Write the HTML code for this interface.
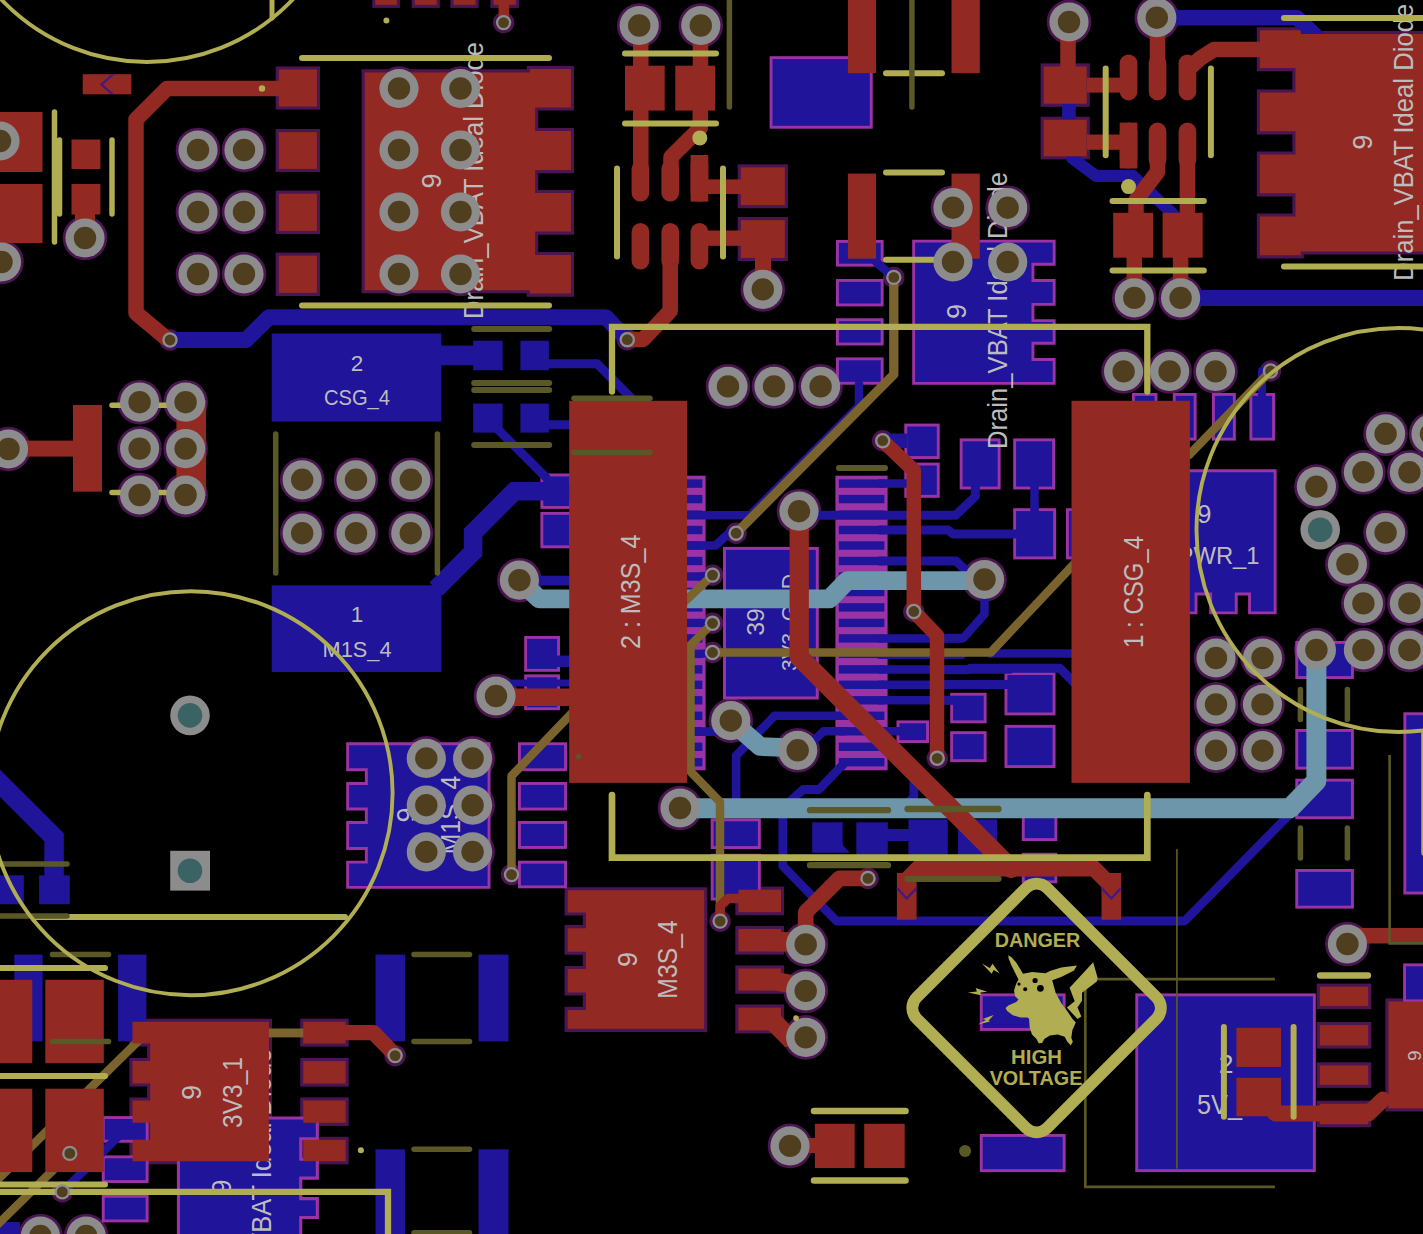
<!DOCTYPE html>
<html><head><meta charset="utf-8"><title>PCB</title>
<style>
html,body{margin:0;padding:0;background:#000;overflow:hidden}
svg{display:block}
text{font-family:"Liberation Sans",sans-serif}
</style></head><body>
<svg width="1423" height="1234" viewBox="0 0 1423 1234">
<rect width="1423" height="1234" fill="#000"/>
<g><rect x="275.7" y="66.4" width="44.3" height="43.2" fill="#4b1552"/>
<rect x="275.7" y="129" width="44.3" height="43" fill="#4b1552"/>
<rect x="275.7" y="190.6" width="44.3" height="43.4" fill="#4b1552"/>
<rect x="275.7" y="252.6" width="44.3" height="43.4" fill="#4b1552"/>
<polygon points="361.6,69.3 526.8,69.3 526.8,65.9 574,65.9 574,110.6 538.2,110.6 538.2,127.9 574,127.9 574,173.2 538.2,173.2 538.2,189.9 574,189.9 574,234.7 538.2,234.7 538.2,251.9 574,251.9 574,296.7 526.8,296.7 526.8,293.3 361.6,293.3" fill="#4b1552"/>
<circle cx="399" cy="88.5" r="22.3" fill="#4b1552"/>
<circle cx="399" cy="150" r="22.3" fill="#4b1552"/>
<circle cx="399" cy="212" r="22.3" fill="#4b1552"/>
<circle cx="399" cy="274" r="22.3" fill="#4b1552"/>
<circle cx="460.5" cy="88.5" r="22.3" fill="#4b1552"/>
<circle cx="460.5" cy="150" r="22.3" fill="#4b1552"/>
<circle cx="460.5" cy="212" r="22.3" fill="#4b1552"/>
<circle cx="460.5" cy="274" r="22.3" fill="#4b1552"/>
<circle cx="198" cy="150" r="22.3" fill="#4b1552"/>
<circle cx="198" cy="212" r="22.3" fill="#4b1552"/>
<circle cx="198" cy="274" r="22.3" fill="#4b1552"/>
<circle cx="244" cy="150" r="22.3" fill="#4b1552"/>
<circle cx="244" cy="212" r="22.3" fill="#4b1552"/>
<circle cx="244" cy="274" r="22.3" fill="#4b1552"/>
<circle cx="0" cy="141" r="22.3" fill="#4b1552"/>
<circle cx="1.5" cy="262" r="22.3" fill="#4b1552"/>
<circle cx="85" cy="238" r="22.3" fill="#4b1552"/>
<circle cx="170" cy="340" r="10.7" fill="#4b1552"/>
<circle cx="8.5" cy="449" r="22.3" fill="#4b1552"/>
<circle cx="139.6" cy="402.2" r="22.3" fill="#4b1552"/>
<circle cx="139.6" cy="448.6" r="22.3" fill="#4b1552"/>
<circle cx="139.6" cy="495" r="22.3" fill="#4b1552"/>
<circle cx="185.6" cy="402.2" r="22.3" fill="#4b1552"/>
<circle cx="185.6" cy="448.6" r="22.3" fill="#4b1552"/>
<circle cx="185.6" cy="495" r="22.3" fill="#4b1552"/>
<circle cx="302.2" cy="479.8" r="22.3" fill="#4b1552"/>
<circle cx="302.2" cy="533.2" r="22.3" fill="#4b1552"/>
<circle cx="356" cy="479.8" r="22.3" fill="#4b1552"/>
<circle cx="356" cy="533.2" r="22.3" fill="#4b1552"/>
<circle cx="410.8" cy="479.8" r="22.3" fill="#4b1552"/>
<circle cx="410.8" cy="533.2" r="22.3" fill="#4b1552"/>
<rect x="372.3" y="-6" width="27.6" height="13.9" fill="#4b1552"/>
<rect x="411.7" y="-6" width="28.1" height="13.9" fill="#4b1552"/>
<rect x="450.4" y="-6" width="28.2" height="13.9" fill="#4b1552"/>
<rect x="490.4" y="-6" width="28.5" height="13.9" fill="#4b1552"/>
<circle cx="503.6" cy="22.6" r="10.7" fill="#4b1552"/>
<circle cx="639.2" cy="25.5" r="22.3" fill="#4b1552"/>
<circle cx="700.8" cy="25.5" r="22.3" fill="#4b1552"/>
<rect x="737.7" y="164.3" width="50.2" height="43.9" fill="#4b1552"/>
<rect x="737.7" y="217" width="50.2" height="44" fill="#4b1552"/>
<circle cx="762.8" cy="289.4" r="22.3" fill="#4b1552"/>
<circle cx="627.3" cy="339.7" r="10.7" fill="#4b1552"/>
<circle cx="953" cy="207.7" r="22.3" fill="#4b1552"/>
<circle cx="953" cy="262" r="22.3" fill="#4b1552"/>
<circle cx="1007.7" cy="207.7" r="22.3" fill="#4b1552"/>
<circle cx="1007.7" cy="262" r="22.3" fill="#4b1552"/>
<circle cx="893.8" cy="277.4" r="10.7" fill="#4b1552"/>
<circle cx="728" cy="386.4" r="22.3" fill="#4b1552"/>
<circle cx="774" cy="386.4" r="22.3" fill="#4b1552"/>
<circle cx="820.6" cy="386.4" r="22.3" fill="#4b1552"/>
<circle cx="1123.6" cy="371.4" r="22.3" fill="#4b1552"/>
<circle cx="1169.6" cy="371.4" r="22.3" fill="#4b1552"/>
<circle cx="1215.5" cy="371.4" r="22.3" fill="#4b1552"/>
<circle cx="1069" cy="22" r="22.3" fill="#4b1552"/>
<circle cx="1156.8" cy="17.7" r="22.3" fill="#4b1552"/>
<polygon points="1430,30.9 1303.8,30.9 1303.8,27.2 1256.8,27.2 1256.8,71.2 1292.4,71.2 1292.4,89.5 1256.8,89.5 1256.8,134.4 1292.4,134.4 1292.4,151.5 1256.8,151.5 1256.8,196.4 1292.4,196.4 1292.4,213.5 1256.8,213.5 1256.8,258.4 1303.8,258.4 1303.8,254.5 1430,254.5" fill="#4b1552"/>
<rect x="1040.6" y="63.4" width="49.2" height="43.4" fill="#4b1552"/>
<rect x="1040.6" y="116.7" width="49.2" height="42.7" fill="#4b1552"/>
<circle cx="1134.3" cy="297.9" r="22.3" fill="#4b1552"/>
<circle cx="1180.6" cy="297.9" r="22.3" fill="#4b1552"/>
<circle cx="1270.5" cy="371" r="10.7" fill="#4b1552"/>
<circle cx="519.4" cy="580.2" r="22.3" fill="#4b1552"/>
<circle cx="984.5" cy="579.5" r="22.3" fill="#4b1552"/>
<circle cx="736.1" cy="533.2" r="10.7" fill="#4b1552"/>
<circle cx="712.5" cy="575.1" r="10.7" fill="#4b1552"/>
<circle cx="712.5" cy="623.3" r="10.7" fill="#4b1552"/>
<circle cx="712.5" cy="652.5" r="10.7" fill="#4b1552"/>
<circle cx="882.7" cy="440.7" r="10.7" fill="#4b1552"/>
<circle cx="913.8" cy="611.5" r="10.7" fill="#4b1552"/>
<circle cx="937.2" cy="758.3" r="10.7" fill="#4b1552"/>
<circle cx="799" cy="511.2" r="22.3" fill="#4b1552"/>
<circle cx="730.8" cy="720.7" r="22.3" fill="#4b1552"/>
<circle cx="797.7" cy="750.3" r="22.3" fill="#4b1552"/>
<circle cx="680" cy="808" r="22.3" fill="#4b1552"/>
<circle cx="496" cy="696" r="22.3" fill="#4b1552"/>
<circle cx="511.5" cy="874.6" r="10.7" fill="#4b1552"/>
<circle cx="1385.6" cy="433.8" r="22.3" fill="#4b1552"/>
<circle cx="1431" cy="434" r="22.3" fill="#4b1552"/>
<circle cx="1363.4" cy="472.3" r="22.3" fill="#4b1552"/>
<circle cx="1409.4" cy="472.3" r="22.3" fill="#4b1552"/>
<circle cx="1316.4" cy="486.6" r="22.3" fill="#4b1552"/>
<circle cx="1385.6" cy="532.6" r="22.3" fill="#4b1552"/>
<circle cx="1347.4" cy="564.2" r="22.3" fill="#4b1552"/>
<circle cx="1363.4" cy="603.4" r="22.3" fill="#4b1552"/>
<circle cx="1409.4" cy="603.4" r="22.3" fill="#4b1552"/>
<circle cx="1316.4" cy="650" r="22.3" fill="#4b1552"/>
<circle cx="1363.4" cy="650" r="22.3" fill="#4b1552"/>
<circle cx="1409.4" cy="650" r="22.3" fill="#4b1552"/>
<circle cx="1216" cy="658" r="22.3" fill="#4b1552"/>
<circle cx="1216" cy="704.4" r="22.3" fill="#4b1552"/>
<circle cx="1216" cy="750.7" r="22.3" fill="#4b1552"/>
<circle cx="1262.5" cy="658" r="22.3" fill="#4b1552"/>
<circle cx="1262.5" cy="704.4" r="22.3" fill="#4b1552"/>
<circle cx="1262.5" cy="750.7" r="22.3" fill="#4b1552"/>
<circle cx="426.3" cy="758.4" r="22.3" fill="#4b1552"/>
<circle cx="426.3" cy="805.2" r="22.3" fill="#4b1552"/>
<circle cx="426.3" cy="851.9" r="22.3" fill="#4b1552"/>
<circle cx="472.6" cy="758.4" r="22.3" fill="#4b1552"/>
<circle cx="472.6" cy="805.2" r="22.3" fill="#4b1552"/>
<circle cx="472.6" cy="851.9" r="22.3" fill="#4b1552"/>
<circle cx="62.3" cy="1191.9" r="10.7" fill="#4b1552"/>
<polygon points="272,1018.7 129.4,1018.7 129.4,1046.6 147.1,1046.6 147.1,1058 129.4,1058 129.4,1086.6 147.1,1086.6 147.1,1097.4 129.4,1097.4 129.4,1125.9 147.1,1125.9 147.1,1136.8 129.4,1136.8 129.4,1164.3 272,1164.3" fill="#4b1552"/>
<rect x="300.2" y="1018.7" width="48.5" height="27.9" fill="#4b1552"/>
<rect x="300.2" y="1058" width="48.5" height="28.6" fill="#4b1552"/>
<rect x="300.2" y="1097.4" width="48.5" height="28.5" fill="#4b1552"/>
<rect x="300.2" y="1136.8" width="48.5" height="27.5" fill="#4b1552"/>
<circle cx="395.1" cy="1055.6" r="10.7" fill="#4b1552"/>
<circle cx="40.4" cy="1236" r="22.3" fill="#4b1552"/>
<circle cx="86.2" cy="1236" r="22.3" fill="#4b1552"/>
<polygon points="707.3,887.2 564.6,887.2 564.6,915.6 582.8,915.6 582.8,925.1 564.6,925.1 564.6,954.8 582.8,954.8 582.8,966 564.6,966 564.6,995.6 582.8,995.6 582.8,1006.8 564.6,1006.8 564.6,1031.9 707.3,1031.9" fill="#4b1552"/>
<rect x="735.3" y="886.6" width="48.8" height="28.7" fill="#4b1552"/>
<rect x="735.3" y="925.9" width="48.8" height="28.7" fill="#4b1552"/>
<rect x="735.3" y="965.4" width="48.8" height="28.3" fill="#4b1552"/>
<rect x="735.3" y="1004.5" width="48.8" height="29" fill="#4b1552"/>
<circle cx="720.1" cy="921.1" r="10.7" fill="#4b1552"/>
<circle cx="805.7" cy="944.4" r="22.3" fill="#4b1552"/>
<circle cx="805.7" cy="990.9" r="22.3" fill="#4b1552"/>
<circle cx="805.7" cy="1037.4" r="22.3" fill="#4b1552"/>
<circle cx="868" cy="878.4" r="10.7" fill="#4b1552"/>
<circle cx="790" cy="1145.9" r="22.3" fill="#4b1552"/>
<rect x="1316.7" y="983.6" width="54.6" height="25.6" fill="#4b1552"/>
<rect x="1316.7" y="1022" width="54.6" height="26.6" fill="#4b1552"/>
<rect x="1316.7" y="1062.3" width="54.6" height="25.6" fill="#4b1552"/>
<rect x="1316.7" y="1100.7" width="54.6" height="26.6" fill="#4b1552"/>
<rect x="1385.4" y="998.4" width="49.6" height="113.1" fill="#4b1552"/>
<circle cx="1347.4" cy="944" r="22.3" fill="#4b1552"/></g>
<g><rect x="769.6" y="56.2" width="103.1" height="72.5" fill="#9a34a4"/>
<rect x="836" y="240" width="47.6" height="26.6" fill="#9a34a4"/>
<rect x="836" y="279" width="47.6" height="27.4" fill="#9a34a4"/>
<rect x="836" y="318.3" width="47.6" height="27.2" fill="#9a34a4"/>
<rect x="836" y="357.4" width="47.6" height="27.3" fill="#9a34a4"/>
<polygon points="912.2,239.7 1055.6,239.7 1055.6,265.7 1034.4,265.7 1034.4,279.1 1055.6,279.1 1055.6,305.8 1034.4,305.8 1034.4,319.2 1055.6,319.2 1055.6,344.7 1034.4,344.7 1034.4,358.1 1055.6,358.1 1055.6,384.8 912.2,384.8" fill="#9a34a4"/>
<rect x="1132" y="393" width="25.5" height="47.6" fill="#9a34a4"/>
<rect x="1172.8" y="393" width="23.8" height="47.6" fill="#9a34a4"/>
<rect x="1212" y="393" width="23.8" height="47.6" fill="#9a34a4"/>
<rect x="1249.4" y="393" width="25.6" height="47.6" fill="#9a34a4"/>
<rect x="835.4" y="475.7" width="52.2" height="294.6" fill="#9a34a4"/>
<rect x="656" y="475.7" width="49.6" height="294.6" fill="#9a34a4"/>
<rect x="723" y="546.9" width="95.8" height="152.6" fill="#9a34a4"/>
<rect x="904.3" y="423.6" width="35.4" height="35.4" fill="#9a34a4"/>
<rect x="904.3" y="462.6" width="35.4" height="35.2" fill="#9a34a4"/>
<rect x="959.7" y="438.4" width="40.9" height="51.1" fill="#9a34a4"/>
<rect x="1013.2" y="438.4" width="41.9" height="51.1" fill="#9a34a4"/>
<rect x="1013.2" y="508.2" width="42.9" height="51.2" fill="#9a34a4"/>
<rect x="1066" y="508.2" width="14" height="51.2" fill="#9a34a4"/>
<rect x="1004.5" y="672.1" width="51" height="43.3" fill="#9a34a4"/>
<rect x="1004.5" y="724.9" width="51" height="43.1" fill="#9a34a4"/>
<rect x="950.2" y="692.8" width="36.4" height="30.5" fill="#9a34a4"/>
<rect x="950.2" y="731.2" width="36.4" height="30.9" fill="#9a34a4"/>
<rect x="896.5" y="720.4" width="32.5" height="22.6" fill="#9a34a4"/>
<rect x="710.7" y="818.4" width="50.1" height="30.6" fill="#9a34a4"/>
<rect x="710.7" y="853.8" width="50.1" height="46.7" fill="#9a34a4"/>
<rect x="1021.8" y="812" width="35.5" height="29" fill="#9a34a4"/>
<rect x="1021.8" y="852.8" width="35.5" height="30.5" fill="#9a34a4"/>
<rect x="540.4" y="473.5" width="31.6" height="35.4" fill="#9a34a4"/>
<rect x="540.4" y="511.9" width="31.6" height="36.4" fill="#9a34a4"/>
<rect x="524.2" y="636" width="35.8" height="35.8" fill="#9a34a4"/>
<rect x="524.2" y="674.4" width="35.8" height="35.8" fill="#9a34a4"/>
<rect x="518" y="742.3" width="49" height="28.9" fill="#9a34a4"/>
<rect x="518" y="782" width="49" height="28.5" fill="#9a34a4"/>
<rect x="518" y="821" width="49" height="27.9" fill="#9a34a4"/>
<rect x="518" y="860.7" width="49" height="27.6" fill="#9a34a4"/>
<polygon points="1185,469.3 1276.6,469.3 1276.6,614.3 1248.1,614.3 1248.1,595.5 1237.7,595.5 1237.7,614.3 1209.2,614.3 1209.2,595.5 1197.5,595.5 1197.5,614.3 1185,614.3" fill="#9a34a4"/>
<rect x="1295.3" y="641" width="58.6" height="38" fill="#9a34a4"/>
<rect x="1295.3" y="729" width="58.6" height="40.6" fill="#9a34a4"/>
<rect x="1295.3" y="778.7" width="58.6" height="40.5" fill="#9a34a4"/>
<rect x="1295.3" y="869" width="58.6" height="39.6" fill="#9a34a4"/>
<rect x="1403.4" y="712.3" width="31.6" height="182.2" fill="#9a34a4"/>
<polygon points="490.5,742.3 346.2,742.3 346.2,771.2 364.9,771.2 364.9,782 346.2,782 346.2,810.5 364.9,810.5 364.9,821 346.2,821 346.2,849.9 364.9,849.9 364.9,860.7 346.2,860.7 346.2,888.8 490.5,888.8" fill="#9a34a4"/>
<rect x="101.8" y="1116.1" width="46.8" height="26.6" fill="#9a34a4"/>
<rect x="101.8" y="1155.4" width="46.8" height="27.6" fill="#9a34a4"/>
<rect x="101.8" y="1194.8" width="46.8" height="27.6" fill="#9a34a4"/>
<polygon points="176.9,1116.4 318.9,1116.4 318.9,1140.3 302.3,1140.3 302.3,1157.7 318.9,1157.7 318.9,1179.7 302.3,1179.7 302.3,1197.1 318.9,1197.1 318.9,1219.1 302.3,1219.1 302.3,1241.2 176.9,1241.2" fill="#9a34a4"/>
<rect x="979.8" y="993.4" width="85.8" height="37.5" fill="#9a34a4"/>
<rect x="979.8" y="1134" width="85.8" height="38.1" fill="#9a34a4"/>
<rect x="1135.3" y="993.4" width="180.5" height="178.7" fill="#9a34a4"/>
<rect x="1403.1" y="963.4" width="31.9" height="38.9" fill="#9a34a4"/></g>
<g><polyline points="170,340 246,340 269,317.2 606,317.2 627,339.5" fill="none" stroke="#20149a" stroke-width="16" stroke-linecap="round" stroke-linejoin="round"/>
<rect x="271.7" y="333.5" width="169.7" height="88.1" fill="#20149a"/>
<rect x="441" y="345.6" width="35" height="19.7" fill="#20149a"/>
<rect x="271.7" y="585.3" width="169.8" height="86.7" fill="#20149a"/>
<rect x="772.5" y="59.1" width="97.3" height="66.7" fill="#20149a"/>
<rect x="838.9" y="242.9" width="41.8" height="20.8" fill="#20149a"/>
<rect x="838.9" y="281.9" width="41.8" height="21.6" fill="#20149a"/>
<rect x="838.9" y="321.2" width="41.8" height="21.4" fill="#20149a"/>
<rect x="838.9" y="360.3" width="41.8" height="21.5" fill="#20149a"/>
<polygon points="915.1,242.6 1052.7,242.6 1052.7,262.8 1031.5,262.8 1031.5,282 1052.7,282 1052.7,302.9 1031.5,302.9 1031.5,322.1 1052.7,322.1 1052.7,341.8 1031.5,341.8 1031.5,361 1052.7,361 1052.7,381.9 915.1,381.9" fill="#20149a"/>
<polyline points="876,262 893.8,277.4" fill="none" stroke="#20149a" stroke-width="8.5" stroke-linecap="round" stroke-linejoin="round"/>
<polyline points="859,384 859,406 750,515.3 688,515.3" fill="none" stroke="#20149a" stroke-width="8.5" stroke-linecap="round" stroke-linejoin="round"/>
<rect x="473.1" y="340.7" width="29.5" height="29.5" fill="#20149a"/>
<rect x="520.4" y="340.7" width="28.5" height="29.5" fill="#20149a"/>
<rect x="473.1" y="403.6" width="29.5" height="29" fill="#20149a"/>
<rect x="520.4" y="403.6" width="28.5" height="29" fill="#20149a"/>
<polyline points="547,363.7 597,363.7 640,407" fill="none" stroke="#20149a" stroke-width="8.9" stroke-linecap="round" stroke-linejoin="round"/>
<polyline points="547,424.8 572,424.8" fill="none" stroke="#20149a" stroke-width="8.9" stroke-linecap="round" stroke-linejoin="round"/>
<polyline points="497,428.5 546,477.4" fill="none" stroke="#20149a" stroke-width="8.9" stroke-linecap="round" stroke-linejoin="round"/>
<polyline points="1157,17.7 1297,17.7 1322,42" fill="none" stroke="#20149a" stroke-width="15.5" stroke-linecap="round" stroke-linejoin="round"/>
<rect x="1062" y="104" width="13.8" height="15" fill="#20149a"/>
<polyline points="1180,297.9 1430,297.9" fill="none" stroke="#20149a" stroke-width="16" stroke-linecap="round" stroke-linejoin="round"/>
<polyline points="1072,158 1096,176 1133,176 1175,216" fill="none" stroke="#20149a" stroke-width="12" stroke-linecap="round" stroke-linejoin="round"/>
<polyline points="1262,371 1262,395" fill="none" stroke="#20149a" stroke-width="8" stroke-linecap="round" stroke-linejoin="round"/>
<rect x="1134.9" y="395.9" width="19.7" height="41.8" fill="#20149a"/>
<rect x="1175.7" y="395.9" width="18" height="41.8" fill="#20149a"/>
<rect x="1214.9" y="395.9" width="18" height="41.8" fill="#20149a"/>
<rect x="1252.3" y="395.9" width="19.8" height="41.8" fill="#20149a"/>
<rect x="838.8" y="479.4" width="45.6" height="8.4" fill="#20149a"/>
<rect x="660" y="479.4" width="42.4" height="8.4" fill="#20149a"/>
<rect x="838.8" y="494.9" width="45.6" height="8.4" fill="#20149a"/>
<rect x="660" y="494.9" width="42.4" height="8.4" fill="#20149a"/>
<rect x="838.8" y="510.4" width="45.6" height="8.4" fill="#20149a"/>
<rect x="660" y="510.4" width="42.4" height="8.4" fill="#20149a"/>
<rect x="838.8" y="525.8" width="45.6" height="8.4" fill="#20149a"/>
<rect x="660" y="525.8" width="42.4" height="8.4" fill="#20149a"/>
<rect x="838.8" y="541.3" width="45.6" height="8.4" fill="#20149a"/>
<rect x="660" y="541.3" width="42.4" height="8.4" fill="#20149a"/>
<rect x="838.8" y="556.8" width="45.6" height="8.4" fill="#20149a"/>
<rect x="660" y="556.8" width="42.4" height="8.4" fill="#20149a"/>
<rect x="838.8" y="572.3" width="45.6" height="8.4" fill="#20149a"/>
<rect x="660" y="572.3" width="42.4" height="8.4" fill="#20149a"/>
<rect x="838.8" y="587.8" width="45.6" height="8.4" fill="#20149a"/>
<rect x="660" y="587.8" width="42.4" height="8.4" fill="#20149a"/>
<rect x="838.8" y="603.2" width="45.6" height="8.4" fill="#20149a"/>
<rect x="660" y="603.2" width="42.4" height="8.4" fill="#20149a"/>
<rect x="838.8" y="618.7" width="45.6" height="8.4" fill="#20149a"/>
<rect x="660" y="618.7" width="42.4" height="8.4" fill="#20149a"/>
<rect x="838.8" y="634.2" width="45.6" height="8.4" fill="#20149a"/>
<rect x="660" y="634.2" width="42.4" height="8.4" fill="#20149a"/>
<rect x="838.8" y="649.7" width="45.6" height="8.4" fill="#20149a"/>
<rect x="660" y="649.7" width="42.4" height="8.4" fill="#20149a"/>
<rect x="838.8" y="665.2" width="45.6" height="8.4" fill="#20149a"/>
<rect x="660" y="665.2" width="42.4" height="8.4" fill="#20149a"/>
<rect x="838.8" y="680.6" width="45.6" height="8.4" fill="#20149a"/>
<rect x="660" y="680.6" width="42.4" height="8.4" fill="#20149a"/>
<rect x="838.8" y="696.1" width="45.6" height="8.4" fill="#20149a"/>
<rect x="660" y="696.1" width="42.4" height="8.4" fill="#20149a"/>
<rect x="838.8" y="711.6" width="45.6" height="8.4" fill="#20149a"/>
<rect x="660" y="711.6" width="42.4" height="8.4" fill="#20149a"/>
<rect x="838.8" y="727.1" width="45.6" height="8.4" fill="#20149a"/>
<rect x="660" y="727.1" width="42.4" height="8.4" fill="#20149a"/>
<rect x="838.8" y="742.6" width="45.6" height="8.4" fill="#20149a"/>
<rect x="660" y="742.6" width="42.4" height="8.4" fill="#20149a"/>
<rect x="838.8" y="758" width="45.6" height="8.4" fill="#20149a"/>
<rect x="660" y="758" width="42.4" height="8.4" fill="#20149a"/>
<rect x="726" y="549.9" width="89.8" height="146.6" fill="#20149a"/>
<polyline points="688,545.5 715.4,545.5 729,533.2 736,533.2" fill="none" stroke="#20149a" stroke-width="8.5" stroke-linecap="round" stroke-linejoin="round"/>
<polyline points="700,576.5 712.5,575.1" fill="none" stroke="#20149a" stroke-width="8" stroke-linecap="round" stroke-linejoin="round"/>
<polyline points="700,622.9 712.5,623.3" fill="none" stroke="#20149a" stroke-width="8" stroke-linecap="round" stroke-linejoin="round"/>
<polyline points="700,653.9 712.5,652.5" fill="none" stroke="#20149a" stroke-width="8" stroke-linecap="round" stroke-linejoin="round"/>
<polyline points="695,731.6 722,731.6" fill="none" stroke="#20149a" stroke-width="8.9" stroke-linecap="round" stroke-linejoin="round"/>
<rect x="907.2" y="426.5" width="29.6" height="29.6" fill="#20149a"/>
<rect x="907.2" y="465.5" width="29.6" height="29.4" fill="#20149a"/>
<rect x="884" y="433.5" width="23" height="14.5" fill="#20149a"/>
<polyline points="880,483.6 910,483.6" fill="none" stroke="#20149a" stroke-width="8.5" stroke-linecap="round" stroke-linejoin="round"/>
<polyline points="799,515.2 955.7,515.2 975.4,496.4 975.4,487" fill="none" stroke="#20149a" stroke-width="8.9" stroke-linecap="round" stroke-linejoin="round"/>
<polyline points="880,530 948,530 953,534 1016,534" fill="none" stroke="#20149a" stroke-width="8.9" stroke-linecap="round" stroke-linejoin="round"/>
<polyline points="880,561 956,561 967.5,572 980,580" fill="none" stroke="#20149a" stroke-width="8.9" stroke-linecap="round" stroke-linejoin="round"/>
<polyline points="880,638.4 962,638.4" fill="none" stroke="#20149a" stroke-width="8.5" stroke-linecap="round" stroke-linejoin="round"/>
<polyline points="880,655.4 962,655.4" fill="none" stroke="#20149a" stroke-width="7" stroke-linecap="round" stroke-linejoin="round"/>
<polyline points="880,669.4 1010,669.4" fill="none" stroke="#20149a" stroke-width="8.5" stroke-linecap="round" stroke-linejoin="round"/>
<polyline points="880,684.8 962,684.8" fill="none" stroke="#20149a" stroke-width="8.5" stroke-linecap="round" stroke-linejoin="round"/>
<polyline points="880,700.3 953,700.3" fill="none" stroke="#20149a" stroke-width="8.5" stroke-linecap="round" stroke-linejoin="round"/>
<rect x="962.6" y="441.3" width="35.1" height="45.3" fill="#20149a"/>
<rect x="1016.1" y="441.3" width="36.1" height="45.3" fill="#20149a"/>
<rect x="1016.1" y="511.1" width="37.1" height="45.4" fill="#20149a"/>
<rect x="1068.9" y="511.1" width="8.2" height="45.4" fill="#20149a"/>
<polyline points="1034.5,486 1034.5,512" fill="none" stroke="#20149a" stroke-width="8.5" stroke-linecap="round" stroke-linejoin="round"/>
<polyline points="984.5,585 984.5,614 963.4,638 940,638" fill="none" stroke="#20149a" stroke-width="8.5" stroke-linecap="round" stroke-linejoin="round"/>
<polyline points="990,653.4 1075,653.4" fill="none" stroke="#20149a" stroke-width="8.5" stroke-linecap="round" stroke-linejoin="round"/>
<polyline points="940,669.7 968,669.7 970,668.3 1060,668.3 1075,683.5" fill="none" stroke="#20149a" stroke-width="8.9" stroke-linecap="round" stroke-linejoin="round"/>
<polyline points="940,684.5 1008,684.5" fill="none" stroke="#20149a" stroke-width="8.9" stroke-linecap="round" stroke-linejoin="round"/>
<polyline points="940,700.2 953,700.2" fill="none" stroke="#20149a" stroke-width="8.9" stroke-linecap="round" stroke-linejoin="round"/>
<rect x="1007.4" y="675" width="45.2" height="37.5" fill="#20149a"/>
<rect x="1007.4" y="727.8" width="45.2" height="37.3" fill="#20149a"/>
<rect x="953.1" y="695.7" width="30.6" height="24.7" fill="#20149a"/>
<rect x="953.1" y="734.1" width="30.6" height="25.1" fill="#20149a"/>
<rect x="899.4" y="723.3" width="26.7" height="16.8" fill="#20149a"/>
<polyline points="880,731.3 900,731.3" fill="none" stroke="#20149a" stroke-width="8.5" stroke-linecap="round" stroke-linejoin="round"/>
<polyline points="845,715.8 774.5,715.8 736.1,755.8 736.1,800" fill="none" stroke="#20149a" stroke-width="8.5" stroke-linecap="round" stroke-linejoin="round"/>
<polyline points="845,731.3 823.6,731.3 806,748" fill="none" stroke="#20149a" stroke-width="8.5" stroke-linecap="round" stroke-linejoin="round"/>
<polyline points="845.3,762.2 819,789.5 803,789.5 782.8,808 782.8,866 836.5,921 1184.7,921 1292,812" fill="none" stroke="#20149a" stroke-width="8.8" stroke-linecap="round" stroke-linejoin="round"/>
<rect x="713.6" y="821.3" width="44.3" height="24.8" fill="#20149a"/>
<rect x="713.6" y="856.7" width="44.3" height="40.9" fill="#20149a"/>
<polygon points="812.2,822.3 842.7,822.3 842.7,845 850,852.8 812.2,852.8" fill="#20149a"/>
<rect x="856.3" y="822.3" width="31.5" height="32.7" fill="#20149a"/>
<rect x="886" y="829" width="24" height="12" fill="#20149a"/>
<rect x="908.4" y="819.4" width="39.4" height="38.6" fill="#20149a"/>
<rect x="957.9" y="819.4" width="39.3" height="38.6" fill="#20149a"/>
<rect x="1024.7" y="814.9" width="29.7" height="23.2" fill="#20149a"/>
<rect x="1024.7" y="855.7" width="29.7" height="24.7" fill="#20149a"/>
<polyline points="913.8,783 913.8,797 905,806" fill="none" stroke="#20149a" stroke-width="8.8" stroke-linecap="round" stroke-linejoin="round"/>
<rect x="543.3" y="476.4" width="25.8" height="29.6" fill="#20149a"/>
<rect x="543.3" y="514.8" width="25.8" height="30.6" fill="#20149a"/>
<polyline points="572,491.2 514.5,491.2 473.1,532.6 473.1,551.9 436,589" fill="none" stroke="#20149a" stroke-width="18.5" stroke-linecap="butt" stroke-linejoin="miter"/>
<rect x="527.1" y="638.9" width="30" height="30" fill="#20149a"/>
<rect x="555" y="655.5" width="17" height="11.5" fill="#20149a"/>
<rect x="527.1" y="677.3" width="30" height="30" fill="#20149a"/>
<rect x="520.9" y="745.2" width="43.2" height="23.1" fill="#20149a"/>
<rect x="520.9" y="784.9" width="43.2" height="22.7" fill="#20149a"/>
<rect x="520.9" y="823.9" width="43.2" height="22.1" fill="#20149a"/>
<rect x="520.9" y="863.6" width="43.2" height="21.8" fill="#20149a"/>
<polyline points="512,683 572,683" fill="none" stroke="#20149a" stroke-width="7" stroke-linecap="round" stroke-linejoin="round"/>
<polyline points="535,580.6 572,580.6" fill="none" stroke="#20149a" stroke-width="9.6" stroke-linecap="round" stroke-linejoin="round"/>
<polygon points="1187.9,472.2 1273.7,472.2 1273.7,611.4 1251,611.4 1251,592.6 1234.8,592.6 1234.8,611.4 1212.1,611.4 1212.1,592.6 1194.6,592.6 1194.6,611.4 1187.9,611.4" fill="#20149a"/>
<rect x="1298.2" y="643.9" width="52.8" height="32.2" fill="#20149a"/>
<rect x="1298.2" y="731.9" width="52.8" height="34.8" fill="#20149a"/>
<rect x="1298.2" y="781.6" width="52.8" height="34.7" fill="#20149a"/>
<rect x="1298.2" y="871.9" width="52.8" height="33.8" fill="#20149a"/>
<rect x="1406.3" y="715.2" width="25.8" height="176.4" fill="#20149a"/>
<polyline points="-10,773.2 54.1,837.3 54.1,880" fill="none" stroke="#20149a" stroke-width="19.5" stroke-linecap="butt" stroke-linejoin="miter"/>
<rect x="-2" y="875.3" width="25.8" height="28.9" fill="#20149a"/>
<rect x="39.1" y="875.3" width="30.7" height="28.9" fill="#20149a"/>
<polygon points="487.6,745.2 349.1,745.2 349.1,768.3 367.8,768.3 367.8,784.9 349.1,784.9 349.1,807.6 367.8,807.6 367.8,823.9 349.1,823.9 349.1,847 367.8,847 367.8,863.6 349.1,863.6 349.1,885.9 487.6,885.9" fill="#20149a"/>
<rect x="14.3" y="954.6" width="28.3" height="86.8" fill="#20149a"/>
<rect x="118.1" y="954.6" width="28.3" height="86.8" fill="#20149a"/>
<rect x="375.5" y="954.6" width="29.6" height="86.8" fill="#20149a"/>
<rect x="478.5" y="954.6" width="30" height="86.8" fill="#20149a"/>
<rect x="375.5" y="1149.3" width="29.6" height="90.7" fill="#20149a"/>
<rect x="478.5" y="1149.3" width="30" height="90.7" fill="#20149a"/>
<polyline points="120,1135 62.3,1191.9" fill="none" stroke="#20149a" stroke-width="8.5" stroke-linecap="round" stroke-linejoin="round"/>
<rect x="104.7" y="1119" width="41" height="20.8" fill="#20149a"/>
<rect x="104.7" y="1158.3" width="41" height="21.8" fill="#20149a"/>
<rect x="104.7" y="1197.7" width="41" height="21.8" fill="#20149a"/>
<polygon points="180,1119.5 315.8,1119.5 315.8,1137.2 299.2,1137.2 299.2,1160.8 315.8,1160.8 315.8,1176.6 299.2,1176.6 299.2,1200.2 315.8,1200.2 315.8,1216 299.2,1216 299.2,1238.1 180,1238.1" fill="#20149a"/>
<rect x="-2" y="1222" width="22" height="18" fill="#20149a"/>
<rect x="982.7" y="996.3" width="80" height="31.7" fill="#20149a"/>
<rect x="982.7" y="1136.9" width="80" height="32.3" fill="#20149a"/>
<rect x="1138.2" y="996.3" width="174.7" height="172.9" fill="#20149a"/>
<rect x="1406" y="966.3" width="26.1" height="33.1" fill="#20149a"/></g>
<g><text x="357" y="371" font-size="22.5" fill="#bcbcbc" text-anchor="middle">2</text>
<text x="357" y="405.2" font-size="22.5" fill="#bcbcbc" text-anchor="middle" textLength="66" lengthAdjust="spacingAndGlyphs">CSG_4</text>
<text x="357" y="621.8" font-size="22.5" fill="#bcbcbc" text-anchor="middle">1</text>
<text x="357.1" y="656.9" font-size="22.5" fill="#bcbcbc" text-anchor="middle" textLength="69" lengthAdjust="spacingAndGlyphs">M1S_4</text>
<text x="956.6" y="321.2" font-size="27.2" fill="#bcbcbc" text-anchor="middle" transform="rotate(-90 956.6 311.5)">9</text>
<text x="996.9" y="320.2" font-size="27.2" fill="#bcbcbc" text-anchor="middle" textLength="277" lengthAdjust="spacingAndGlyphs" transform="rotate(-90 996.9 310.5)">Drain_VBAT Ideal Diode</text>
<text x="755.1" y="630.8" font-size="24.5" fill="#bcbcbc" text-anchor="middle" textLength="27.5" lengthAdjust="spacingAndGlyphs" transform="rotate(-90 755.1 622)">39</text>
<text x="789.3" y="630.5" font-size="22.5" fill="#bcbcbc" text-anchor="middle" textLength="97" lengthAdjust="spacingAndGlyphs" transform="rotate(-90 789.3 622.4)">3V3_GND</text>
<text x="1204.3" y="523.3" font-size="25.5" fill="#bcbcbc" text-anchor="middle">9</text>
<text x="1218.6" y="563.7" font-size="24.8" fill="#bcbcbc" text-anchor="middle" textLength="82" lengthAdjust="spacingAndGlyphs">PWR_1</text>
<text x="406.8" y="824.7" font-size="27.2" fill="#bcbcbc" text-anchor="middle" transform="rotate(-90 406.8 815)">9</text>
<text x="450.2" y="824.7" font-size="27.2" fill="#bcbcbc" text-anchor="middle" textLength="78.5" lengthAdjust="spacingAndGlyphs" transform="rotate(-90 450.2 815)">M1S_4</text>
<text x="221.8" y="1196.7" font-size="27.2" fill="#bcbcbc" text-anchor="middle" transform="rotate(-90 221.8 1187)">9</text>
<text x="261.7" y="1196.7" font-size="27.2" fill="#bcbcbc" text-anchor="middle" textLength="277" lengthAdjust="spacingAndGlyphs" transform="rotate(-90 261.7 1187)">Drain_VBAT Ideal Diode</text>
<text x="1226.1" y="1073.4" font-size="26.5" fill="#bcbcbc" text-anchor="middle">2</text>
<text x="1226.5" y="1114.3" font-size="27.2" fill="#bcbcbc" text-anchor="middle" textLength="59" lengthAdjust="spacingAndGlyphs">5V_1</text></g>
<g><polyline points="519.4,580.2 539,598.8 829.5,598.8 847.3,580.7 984.5,580.7" fill="none" stroke="#6e96aa" stroke-width="18.8" stroke-linecap="round" stroke-linejoin="round"/>
<polyline points="730.8,720.7 760,746.5 797.7,748" fill="none" stroke="#6e96aa" stroke-width="18.7" stroke-linecap="round" stroke-linejoin="round"/>
<polyline points="680,808.2 1290,808.2 1316.4,781 1316.4,650" fill="none" stroke="#6e96aa" stroke-width="20" stroke-linecap="round" stroke-linejoin="round"/></g>
<g><polyline points="893.8,280 893.8,374.5 736.1,533.2" fill="none" stroke="#7a632c" stroke-width="9.3" stroke-linecap="round" stroke-linejoin="round"/>
<polyline points="1270.5,371 1189,455" fill="none" stroke="#7a632c" stroke-width="8.5" stroke-linecap="round" stroke-linejoin="round"/>
<polyline points="712.5,652.5 990.7,652.5 1075,563" fill="none" stroke="#7a632c" stroke-width="8.5" stroke-linecap="round" stroke-linejoin="round"/>
<polyline points="712.5,575.1 680,606" fill="none" stroke="#7a632c" stroke-width="8.5" stroke-linecap="round" stroke-linejoin="round"/>
<polyline points="712.5,623.3 690.5,645.3 690.5,771.5 720,802 720,921" fill="none" stroke="#7a632c" stroke-width="8.5" stroke-linecap="round" stroke-linejoin="round"/>
<polyline points="572,713 511.5,776 511.5,874" fill="none" stroke="#7a632c" stroke-width="8.5" stroke-linecap="round" stroke-linejoin="round"/>
<polyline points="140,1039.3 44.3,1133.6 -5,1182.3" fill="none" stroke="#7a632c" stroke-width="8.5" stroke-linecap="round" stroke-linejoin="round"/>
<polyline points="70.1,1153.4 -8,1230" fill="none" stroke="#7a632c" stroke-width="8.5" stroke-linecap="round" stroke-linejoin="round"/>
<rect x="266" y="1028.5" width="39" height="8.9" fill="#7a632c"/></g>
<g><rect x="82.7" y="74.2" width="48.7" height="20.1" fill="#922a23"/>
<svg x="82.7" y="74.2" width="48.7" height="20.1" viewBox="82.7 74.2 48.7 20.1"><polyline points="114,73.5 101.5,84.5 114,95.5" fill="none" stroke="#44187c" stroke-width="2.3"/></svg>
<rect x="278.8" y="69.5" width="38.1" height="37" fill="#922a23"/>
<rect x="278.8" y="132.1" width="38.1" height="36.8" fill="#922a23"/>
<rect x="278.8" y="193.7" width="38.1" height="37.2" fill="#922a23"/>
<rect x="278.8" y="255.7" width="38.1" height="37.2" fill="#922a23"/>
<polyline points="280,88.5 167,88.5 136,119.5 136,313 166,338" fill="none" stroke="#922a23" stroke-width="15.5" stroke-linecap="round" stroke-linejoin="round"/>
<polygon points="364.7,72.4 529.9,72.4 529.9,69 570.9,69 570.9,107.5 535.1,107.5 535.1,131 570.9,131 570.9,170.1 535.1,170.1 535.1,193 570.9,193 570.9,231.6 535.1,231.6 535.1,255 570.9,255 570.9,293.6 529.9,293.6 529.9,290.2 364.7,290.2" fill="#922a23"/>
<rect x="-2" y="112" width="44.5" height="60" fill="#922a23"/>
<rect x="-2" y="184" width="44.5" height="59" fill="#922a23"/>
<rect x="71.5" y="139.5" width="28.9" height="29.5" fill="#922a23"/>
<rect x="71.5" y="184" width="28.9" height="30.5" fill="#922a23"/>
<rect x="75" y="214" width="20" height="18" fill="#922a23"/>
<rect x="25" y="440.6" width="50" height="16" fill="#922a23"/>
<rect x="73" y="405" width="29" height="86.7" fill="#922a23"/>
<rect x="176.4" y="400" width="29.6" height="96" fill="#922a23"/>
<rect x="375.4" y="-2.9" width="21.4" height="7.7" fill="#922a23"/>
<rect x="414.8" y="-2.9" width="21.9" height="7.7" fill="#922a23"/>
<rect x="453.5" y="-2.9" width="22" height="7.7" fill="#922a23"/>
<rect x="493.5" y="-2.9" width="22.3" height="7.7" fill="#922a23"/>
<rect x="498.5" y="3" width="10.5" height="17" fill="#922a23"/>
<rect x="625" y="65.7" width="39.7" height="44.9" fill="#922a23"/>
<rect x="675.3" y="65.7" width="39.7" height="44.9" fill="#922a23"/>
<polyline points="640.8,25 640.8,192" fill="none" stroke="#922a23" stroke-width="15.5" stroke-linecap="round" stroke-linejoin="round"/>
<polyline points="700.5,25 700.5,70" fill="none" stroke="#922a23" stroke-width="15.5" stroke-linecap="round" stroke-linejoin="round"/>
<polyline points="700.3,108 700.3,128 671,157 671,190" fill="none" stroke="#922a23" stroke-width="15.5" stroke-linecap="round" stroke-linejoin="round"/>
<rect x="631.6" y="160" width="17.7" height="41.5" fill="#922a23" rx="8.8"/>
<rect x="661.4" y="160" width="17.7" height="41.5" fill="#922a23" rx="8.8"/>
<rect x="690.6" y="155" width="17.7" height="46.7" fill="#922a23" rx="8.8"/>
<rect x="690.6" y="155" width="17.7" height="23.3" fill="#922a23"/>
<rect x="690.6" y="178.3" width="17.7" height="23.3" fill="#922a23"/>
<rect x="631.6" y="223" width="17.7" height="46.6" fill="#922a23" rx="8.8"/>
<rect x="661.4" y="223" width="17.7" height="46.6" fill="#922a23" rx="8.8"/>
<rect x="690.6" y="223" width="17.7" height="46.6" fill="#922a23" rx="8.8"/>
<rect x="740.8" y="167.4" width="44" height="37.7" fill="#922a23"/>
<rect x="740.8" y="220.1" width="44" height="37.8" fill="#922a23"/>
<rect x="705" y="179.4" width="36" height="14.6" fill="#922a23"/>
<rect x="705" y="230.5" width="36" height="15.3" fill="#922a23"/>
<rect x="755" y="257" width="16" height="18" fill="#922a23"/>
<polyline points="670.2,262 670.2,311 643,339.5 627.3,339.5" fill="none" stroke="#922a23" stroke-width="15.5" stroke-linecap="round" stroke-linejoin="round"/>
<rect x="847.9" y="-2" width="28.2" height="75.2" fill="#922a23"/>
<rect x="951.5" y="-2" width="28.3" height="75.2" fill="#922a23"/>
<rect x="847.9" y="173.6" width="28.2" height="85.1" fill="#922a23"/>
<rect x="951.5" y="173.6" width="28.3" height="85.1" fill="#922a23"/>
<polygon points="1426.9,34 1300.7,34 1300.7,30.3 1259.9,30.3 1259.9,68.1 1295.5,68.1 1295.5,92.6 1259.9,92.6 1259.9,131.3 1295.5,131.3 1295.5,154.6 1259.9,154.6 1259.9,193.3 1295.5,193.3 1295.5,216.6 1259.9,216.6 1259.9,255.3 1300.7,255.3 1300.7,251.4 1426.9,251.4" fill="#922a23"/>
<rect x="1043.7" y="66.5" width="43" height="37.2" fill="#922a23"/>
<rect x="1043.7" y="119.8" width="43" height="36.5" fill="#922a23"/>
<polyline points="1068,22 1068,68" fill="none" stroke="#922a23" stroke-width="15.5" stroke-linecap="round" stroke-linejoin="round"/>
<rect x="1087" y="77.6" width="37" height="15" fill="#922a23"/>
<rect x="1087" y="134.5" width="37" height="15.3" fill="#922a23"/>
<rect x="1119.7" y="54.5" width="17.7" height="45.9" fill="#922a23" rx="8.8"/>
<rect x="1148.7" y="54.5" width="17.7" height="45.9" fill="#922a23" rx="8.8"/>
<rect x="1178.6" y="54.5" width="17.7" height="45.9" fill="#922a23" rx="8.8"/>
<rect x="1119.7" y="122.6" width="17.7" height="45.9" fill="#922a23" rx="8.8"/>
<rect x="1119.7" y="122.6" width="17.7" height="23" fill="#922a23"/>
<rect x="1119.7" y="145.6" width="17.7" height="22.9" fill="#922a23"/>
<rect x="1148.7" y="122.6" width="17.7" height="45.9" fill="#922a23" rx="8.8"/>
<rect x="1178.6" y="122.6" width="17.7" height="45.9" fill="#922a23" rx="8.8"/>
<polyline points="1157.5,18 1157.5,92" fill="none" stroke="#922a23" stroke-width="15.5" stroke-linecap="round" stroke-linejoin="round"/>
<polyline points="1187.4,70 1200,58.5 1214,49.4 1262,49.4" fill="none" stroke="#922a23" stroke-width="15.5" stroke-linecap="round" stroke-linejoin="round"/>
<polyline points="1157.5,160 1157.5,172 1136,200 1136,215" fill="none" stroke="#922a23" stroke-width="15.5" stroke-linecap="round" stroke-linejoin="round"/>
<polyline points="1187.4,160 1187.4,215" fill="none" stroke="#922a23" stroke-width="15.5" stroke-linecap="round" stroke-linejoin="round"/>
<rect x="1113.2" y="212.8" width="39.8" height="44.9" fill="#922a23"/>
<rect x="1162.6" y="212.8" width="40.1" height="44.9" fill="#922a23"/>
<polyline points="1134.3,255 1134.3,298" fill="none" stroke="#922a23" stroke-width="15.5" stroke-linecap="round" stroke-linejoin="round"/>
<polyline points="1180.6,255 1180.6,298" fill="none" stroke="#922a23" stroke-width="15.5" stroke-linecap="round" stroke-linejoin="round"/>
<rect x="569.2" y="400.8" width="117.9" height="382.1" fill="#922a23"/>
<rect x="1071.5" y="400.8" width="118.4" height="382.1" fill="#922a23"/>
<polyline points="882.7,440.7 913.8,470.5 913.8,611.5 937,635.5 937,758" fill="none" stroke="#922a23" stroke-width="14.5" stroke-linecap="round" stroke-linejoin="round"/>
<polyline points="799.2,511 799.2,657 1011,868.5" fill="none" stroke="#922a23" stroke-width="19.3" stroke-linecap="round" stroke-linejoin="round"/>
<rect x="496" y="688.5" width="76" height="17.5" fill="#922a23"/>
<rect x="-2" y="979.8" width="34.3" height="83.4" fill="#922a23"/>
<rect x="45.3" y="979.8" width="58.5" height="83.4" fill="#922a23"/>
<rect x="-2" y="1088.7" width="34.3" height="83.4" fill="#922a23"/>
<rect x="45.3" y="1088.7" width="58.5" height="83.4" fill="#922a23"/>
<polygon points="268.9,1021.8 132.5,1021.8 132.5,1043.5 150.2,1043.5 150.2,1061.1 132.5,1061.1 132.5,1083.5 150.2,1083.5 150.2,1100.5 132.5,1100.5 132.5,1122.8 150.2,1122.8 150.2,1139.9 132.5,1139.9 132.5,1161.2 268.9,1161.2" fill="#922a23"/>
<rect x="303.3" y="1021.8" width="42.3" height="21.7" fill="#922a23"/>
<rect x="303.3" y="1061.1" width="42.3" height="22.4" fill="#922a23"/>
<rect x="303.3" y="1100.5" width="42.3" height="22.3" fill="#922a23"/>
<rect x="303.3" y="1139.9" width="42.3" height="21.3" fill="#922a23"/>
<polyline points="340,1032.6 373.5,1032.6 395,1055" fill="none" stroke="#922a23" stroke-width="15.3" stroke-linecap="round" stroke-linejoin="round"/>
<polygon points="704.2,890.3 567.7,890.3 567.7,912.5 585.9,912.5 585.9,928.2 567.7,928.2 567.7,951.7 585.9,951.7 585.9,969.1 567.7,969.1 567.7,992.5 585.9,992.5 585.9,1009.9 567.7,1009.9 567.7,1028.8 704.2,1028.8" fill="#922a23"/>
<rect x="738.4" y="889.7" width="42.6" height="22.5" fill="#922a23"/>
<rect x="738.4" y="929" width="42.6" height="22.5" fill="#922a23"/>
<rect x="738.4" y="968.5" width="42.6" height="22.1" fill="#922a23"/>
<rect x="738.4" y="1007.6" width="42.6" height="22.8" fill="#922a23"/>
<polyline points="720.1,921 720.1,906 728,898.5 742,898.5" fill="none" stroke="#922a23" stroke-width="9.5" stroke-linecap="round" stroke-linejoin="round"/>
<polyline points="765,941.3 805.7,942.5" fill="none" stroke="#922a23" stroke-width="19.5" stroke-linecap="butt" stroke-linejoin="round"/>
<polyline points="768,979.7 805.7,987" fill="none" stroke="#922a23" stroke-width="18.5" stroke-linecap="butt" stroke-linejoin="round"/>
<polyline points="768.5,1016.9 789,1037.4 805.7,1037.4" fill="none" stroke="#922a23" stroke-width="19" stroke-linecap="butt" stroke-linejoin="miter"/>
<polyline points="868,878.4 839.5,878.4 805.7,912.2 805.7,945.3" fill="none" stroke="#922a23" stroke-width="15.7" stroke-linecap="round" stroke-linejoin="round"/>
<polyline points="906.7,910 906.7,880 918,868.5 1094,868.5 1111.3,886 1111.3,910" fill="none" stroke="#922a23" stroke-width="16" stroke-linecap="butt" stroke-linejoin="miter"/>
<rect x="896.9" y="873" width="19.7" height="46.7" fill="#922a23"/>
<rect x="1101.5" y="873" width="19.7" height="46.7" fill="#922a23"/>
<polyline points="897,888 906.7,898.5 916.5,888" fill="none" stroke="#44187c" stroke-width="2.3" stroke-linecap="butt" stroke-linejoin="miter"/>
<polyline points="1101.6,888 1111.3,898.5 1121.1,888" fill="none" stroke="#44187c" stroke-width="2.3" stroke-linecap="butt" stroke-linejoin="miter"/>
<rect x="800" y="1138" width="16" height="15" fill="#922a23"/>
<rect x="814.9" y="1123.8" width="39.8" height="44.2" fill="#922a23"/>
<rect x="864.2" y="1123.8" width="40.5" height="44.2" fill="#922a23"/>
<rect x="1236.4" y="1027.8" width="44.6" height="39.1" fill="#922a23"/>
<rect x="1236.4" y="1077.8" width="44.6" height="38.5" fill="#922a23"/>
<polyline points="1275,1113.5 1368.5,1113.5 1383,1099.5" fill="none" stroke="#922a23" stroke-width="15.8" stroke-linecap="round" stroke-linejoin="round"/>
<rect x="1319.8" y="986.7" width="48.4" height="19.4" fill="#922a23"/>
<rect x="1319.8" y="1025.1" width="48.4" height="20.4" fill="#922a23"/>
<rect x="1319.8" y="1065.4" width="48.4" height="19.4" fill="#922a23"/>
<rect x="1319.8" y="1103.8" width="48.4" height="20.4" fill="#922a23"/>
<rect x="1388.5" y="1001.5" width="43.4" height="106.9" fill="#922a23"/>
<polyline points="1347,935.7 1430,935.7" fill="none" stroke="#922a23" stroke-width="15.5" stroke-linecap="round" stroke-linejoin="round"/></g>
<g><text x="431.5" y="190.7" font-size="27.2" fill="#bcbcbc" text-anchor="middle" transform="rotate(-90 431.5 181)">9</text>
<text x="472.9" y="190.1" font-size="27.2" fill="#bcbcbc" text-anchor="middle" textLength="277" lengthAdjust="spacingAndGlyphs" transform="rotate(-90 472.9 180.4)">Drain_VBAT Ideal Diode</text>
<text x="1362.6" y="152" font-size="27.2" fill="#bcbcbc" text-anchor="middle" transform="rotate(-90 1362.6 142.3)">9</text>
<text x="1403.4" y="152" font-size="27.2" fill="#bcbcbc" text-anchor="middle" textLength="277" lengthAdjust="spacingAndGlyphs" transform="rotate(-90 1403.4 142.3)">Drain_VBAT Ideal Diode</text>
<text x="630" y="601.5" font-size="27.2" fill="#bcbcbc" text-anchor="middle" textLength="114.5" lengthAdjust="spacingAndGlyphs" transform="rotate(-90 630 591.8)">2 : M3S_4</text>
<text x="1133.3" y="601.6" font-size="27.2" fill="#bcbcbc" text-anchor="middle" textLength="112" lengthAdjust="spacingAndGlyphs" transform="rotate(-90 1133.3 591.9)">1 : CSG_4</text>
<text x="191.1" y="1102.2" font-size="27.2" fill="#bcbcbc" text-anchor="middle" transform="rotate(-90 191.1 1092.5)">9</text>
<text x="232.2" y="1102.2" font-size="27.2" fill="#bcbcbc" text-anchor="middle" textLength="71" lengthAdjust="spacingAndGlyphs" transform="rotate(-90 232.2 1092.5)">3V3_1</text>
<text x="627.4" y="969.2" font-size="27.2" fill="#bcbcbc" text-anchor="middle" transform="rotate(-90 627.4 959.5)">9</text>
<text x="667.8" y="969.2" font-size="27.2" fill="#bcbcbc" text-anchor="middle" textLength="78.5" lengthAdjust="spacingAndGlyphs" transform="rotate(-90 667.8 959.5)">M3S_4</text>
<text x="1414.5" y="1062.5" font-size="19" fill="#bcbcbc" text-anchor="middle" transform="rotate(-90 1414.5 1055.7)">9</text></g>
<g><polyline points="272,-5 272,18" fill="none" stroke="#b0ad52" stroke-width="5" stroke-linecap="round" stroke-linejoin="round"/>
<polyline points="302,58 549,58" fill="none" stroke="#b0ad52" stroke-width="6" stroke-linecap="round" stroke-linejoin="round"/>
<polyline points="302,305.4 549,305.4" fill="none" stroke="#b0ad52" stroke-width="6" stroke-linecap="round" stroke-linejoin="round"/>
<polyline points="54.5,112 54.5,242" fill="none" stroke="#b0ad52" stroke-width="5.5" stroke-linecap="round" stroke-linejoin="round"/>
<polyline points="59.5,140 59.5,214" fill="none" stroke="#b0ad52" stroke-width="5.5" stroke-linecap="round" stroke-linejoin="round"/>
<polyline points="112,140 112,214" fill="none" stroke="#b0ad52" stroke-width="5.5" stroke-linecap="round" stroke-linejoin="round"/>
<polyline points="112,492.4 188,492.4" fill="none" stroke="#b0ad52" stroke-width="5.5" stroke-linecap="round" stroke-linejoin="round"/>
<polyline points="112,405.2 188,405.2" fill="none" stroke="#b0ad52" stroke-width="5.5" stroke-linecap="round" stroke-linejoin="round"/>
<polyline points="625,53.4 716,53.4" fill="none" stroke="#b0ad52" stroke-width="6" stroke-linecap="round" stroke-linejoin="round"/>
<polyline points="625,123.6 716,123.6" fill="none" stroke="#b0ad52" stroke-width="6" stroke-linecap="round" stroke-linejoin="round"/>
<polyline points="617,168.5 617,256.5" fill="none" stroke="#b0ad52" stroke-width="6" stroke-linecap="round" stroke-linejoin="round"/>
<polyline points="723,168.5 723,256.5" fill="none" stroke="#b0ad52" stroke-width="6" stroke-linecap="round" stroke-linejoin="round"/>
<polyline points="886,73.2 942,73.2" fill="none" stroke="#b0ad52" stroke-width="6" stroke-linecap="round" stroke-linejoin="round"/>
<polyline points="886,172.6 942,172.6" fill="none" stroke="#b0ad52" stroke-width="6" stroke-linecap="round" stroke-linejoin="round"/>
<polyline points="886,259.7 942,259.7" fill="none" stroke="#b0ad52" stroke-width="6" stroke-linecap="round" stroke-linejoin="round"/>
<polyline points="612,391.5 612,326.9 1147.3,326.9 1147.3,391.5" fill="none" stroke="#b0ad52" stroke-width="6.3" stroke-linecap="round" stroke-linejoin="miter"/>
<polyline points="612,795 612,857.7 1147.3,857.7 1147.3,795" fill="none" stroke="#b0ad52" stroke-width="6.7" stroke-linecap="round" stroke-linejoin="miter"/>
<polyline points="1284,18 1425,18" fill="none" stroke="#b0ad52" stroke-width="6" stroke-linecap="round" stroke-linejoin="round"/>
<polyline points="1284,266.5 1425,266.5" fill="none" stroke="#b0ad52" stroke-width="6" stroke-linecap="round" stroke-linejoin="round"/>
<polyline points="1105.7,68.4 1105.7,155.3" fill="none" stroke="#b0ad52" stroke-width="6" stroke-linecap="round" stroke-linejoin="round"/>
<polyline points="1210.9,68.4 1210.9,155.3" fill="none" stroke="#b0ad52" stroke-width="6" stroke-linecap="round" stroke-linejoin="round"/>
<polyline points="1112.5,200.9 1203.8,200.9" fill="none" stroke="#b0ad52" stroke-width="6" stroke-linecap="round" stroke-linejoin="round"/>
<polyline points="1112.5,270.6 1203.8,270.6" fill="none" stroke="#b0ad52" stroke-width="6" stroke-linecap="round" stroke-linejoin="round"/>
<polyline points="36,917 345,917" fill="none" stroke="#b0ad52" stroke-width="6" stroke-linecap="round" stroke-linejoin="round"/>
<polyline points="-5,967.9 105,967.9" fill="none" stroke="#b0ad52" stroke-width="6" stroke-linecap="round" stroke-linejoin="round"/>
<polyline points="-5,1076.1 105,1076.1" fill="none" stroke="#b0ad52" stroke-width="6" stroke-linecap="round" stroke-linejoin="round"/>
<polyline points="-5,1184.4 105,1184.4" fill="none" stroke="#b0ad52" stroke-width="6" stroke-linecap="round" stroke-linejoin="round"/>
<polyline points="-5,1191.9 388,1191.9 388,1240" fill="none" stroke="#b0ad52" stroke-width="6.3" stroke-linecap="round" stroke-linejoin="miter"/>
<polyline points="814,1110.9 905.5,1110.9" fill="none" stroke="#b0ad52" stroke-width="6.5" stroke-linecap="round" stroke-linejoin="round"/>
<polyline points="814,1180.6 905.5,1180.6" fill="none" stroke="#b0ad52" stroke-width="6.5" stroke-linecap="round" stroke-linejoin="round"/>
<polyline points="1223.9,1027 1223.9,1116.7" fill="none" stroke="#b0ad52" stroke-width="6" stroke-linecap="round" stroke-linejoin="round"/>
<polyline points="1293.6,1027 1293.6,1116.7" fill="none" stroke="#b0ad52" stroke-width="6" stroke-linecap="round" stroke-linejoin="round"/>
<polyline points="1320,975.5 1368,975.5" fill="none" stroke="#b0ad52" stroke-width="6.3" stroke-linecap="round" stroke-linejoin="round"/>
<polyline points="1424.2,731 1424.2,853" fill="none" stroke="#b0ad52" stroke-width="6" stroke-linecap="round" stroke-linejoin="round"/></g>
<g><circle cx="399" cy="88.5" r="19.6" fill="#8c8c8c"/>
<circle cx="399" cy="88.5" r="11.2" fill="#4f3f1f"/>
<circle cx="399" cy="150" r="19.6" fill="#8c8c8c"/>
<circle cx="399" cy="150" r="11.2" fill="#4f3f1f"/>
<circle cx="399" cy="212" r="19.6" fill="#8c8c8c"/>
<circle cx="399" cy="212" r="11.2" fill="#4f3f1f"/>
<circle cx="399" cy="274" r="19.6" fill="#8c8c8c"/>
<circle cx="399" cy="274" r="11.2" fill="#4f3f1f"/>
<circle cx="460.5" cy="88.5" r="19.6" fill="#8c8c8c"/>
<circle cx="460.5" cy="88.5" r="11.2" fill="#4f3f1f"/>
<circle cx="460.5" cy="150" r="19.6" fill="#8c8c8c"/>
<circle cx="460.5" cy="150" r="11.2" fill="#4f3f1f"/>
<circle cx="460.5" cy="212" r="19.6" fill="#8c8c8c"/>
<circle cx="460.5" cy="212" r="11.2" fill="#4f3f1f"/>
<circle cx="460.5" cy="274" r="19.6" fill="#8c8c8c"/>
<circle cx="460.5" cy="274" r="11.2" fill="#4f3f1f"/>
<circle cx="198" cy="150" r="19.6" fill="#8c8c8c"/>
<circle cx="198" cy="150" r="11.2" fill="#4f3f1f"/>
<circle cx="198" cy="212" r="19.6" fill="#8c8c8c"/>
<circle cx="198" cy="212" r="11.2" fill="#4f3f1f"/>
<circle cx="198" cy="274" r="19.6" fill="#8c8c8c"/>
<circle cx="198" cy="274" r="11.2" fill="#4f3f1f"/>
<circle cx="244" cy="150" r="19.6" fill="#8c8c8c"/>
<circle cx="244" cy="150" r="11.2" fill="#4f3f1f"/>
<circle cx="244" cy="212" r="19.6" fill="#8c8c8c"/>
<circle cx="244" cy="212" r="11.2" fill="#4f3f1f"/>
<circle cx="244" cy="274" r="19.6" fill="#8c8c8c"/>
<circle cx="244" cy="274" r="11.2" fill="#4f3f1f"/>
<circle cx="0" cy="141" r="19.6" fill="#8c8c8c"/>
<circle cx="0" cy="141" r="11.2" fill="#4f3f1f"/>
<circle cx="1.5" cy="262" r="19.6" fill="#8c8c8c"/>
<circle cx="1.5" cy="262" r="11.2" fill="#4f3f1f"/>
<circle cx="85" cy="238" r="19.6" fill="#8c8c8c"/>
<circle cx="85" cy="238" r="11.2" fill="#4f3f1f"/>
<circle cx="170" cy="340" r="7.7" fill="#8c8c8c"/>
<circle cx="170" cy="340" r="5.4" fill="#4f3f1f"/>
<circle cx="8.5" cy="449" r="19.6" fill="#8c8c8c"/>
<circle cx="8.5" cy="449" r="11.2" fill="#4f3f1f"/>
<circle cx="139.6" cy="402.2" r="19.6" fill="#8c8c8c"/>
<circle cx="139.6" cy="402.2" r="11.2" fill="#4f3f1f"/>
<circle cx="139.6" cy="448.6" r="19.6" fill="#8c8c8c"/>
<circle cx="139.6" cy="448.6" r="11.2" fill="#4f3f1f"/>
<circle cx="139.6" cy="495" r="19.6" fill="#8c8c8c"/>
<circle cx="139.6" cy="495" r="11.2" fill="#4f3f1f"/>
<circle cx="185.6" cy="402.2" r="19.6" fill="#8c8c8c"/>
<circle cx="185.6" cy="402.2" r="11.2" fill="#4f3f1f"/>
<circle cx="185.6" cy="448.6" r="19.6" fill="#8c8c8c"/>
<circle cx="185.6" cy="448.6" r="11.2" fill="#4f3f1f"/>
<circle cx="185.6" cy="495" r="19.6" fill="#8c8c8c"/>
<circle cx="185.6" cy="495" r="11.2" fill="#4f3f1f"/>
<circle cx="302.2" cy="479.8" r="19.6" fill="#8c8c8c"/>
<circle cx="302.2" cy="479.8" r="11.2" fill="#4f3f1f"/>
<circle cx="302.2" cy="533.2" r="19.6" fill="#8c8c8c"/>
<circle cx="302.2" cy="533.2" r="11.2" fill="#4f3f1f"/>
<circle cx="356" cy="479.8" r="19.6" fill="#8c8c8c"/>
<circle cx="356" cy="479.8" r="11.2" fill="#4f3f1f"/>
<circle cx="356" cy="533.2" r="19.6" fill="#8c8c8c"/>
<circle cx="356" cy="533.2" r="11.2" fill="#4f3f1f"/>
<circle cx="410.8" cy="479.8" r="19.6" fill="#8c8c8c"/>
<circle cx="410.8" cy="479.8" r="11.2" fill="#4f3f1f"/>
<circle cx="410.8" cy="533.2" r="19.6" fill="#8c8c8c"/>
<circle cx="410.8" cy="533.2" r="11.2" fill="#4f3f1f"/>
<circle cx="503.6" cy="22.6" r="7.7" fill="#8c8c8c"/>
<circle cx="503.6" cy="22.6" r="5.4" fill="#4f3f1f"/>
<circle cx="639.2" cy="25.5" r="19.6" fill="#8c8c8c"/>
<circle cx="639.2" cy="25.5" r="11.2" fill="#4f3f1f"/>
<circle cx="700.8" cy="25.5" r="19.6" fill="#8c8c8c"/>
<circle cx="700.8" cy="25.5" r="11.2" fill="#4f3f1f"/>
<circle cx="762.8" cy="289.4" r="19.6" fill="#8c8c8c"/>
<circle cx="762.8" cy="289.4" r="11.2" fill="#4f3f1f"/>
<circle cx="627.3" cy="339.7" r="7.7" fill="#8c8c8c"/>
<circle cx="627.3" cy="339.7" r="5.4" fill="#4f3f1f"/>
<circle cx="953" cy="207.7" r="19.6" fill="#8c8c8c"/>
<circle cx="953" cy="207.7" r="11.2" fill="#4f3f1f"/>
<circle cx="953" cy="262" r="19.6" fill="#8c8c8c"/>
<circle cx="953" cy="262" r="11.2" fill="#4f3f1f"/>
<circle cx="1007.7" cy="207.7" r="19.6" fill="#8c8c8c"/>
<circle cx="1007.7" cy="207.7" r="11.2" fill="#4f3f1f"/>
<circle cx="1007.7" cy="262" r="19.6" fill="#8c8c8c"/>
<circle cx="1007.7" cy="262" r="11.2" fill="#4f3f1f"/>
<circle cx="893.8" cy="277.4" r="7.7" fill="#8c8c8c"/>
<circle cx="893.8" cy="277.4" r="5.4" fill="#4f3f1f"/>
<circle cx="728" cy="386.4" r="19.6" fill="#8c8c8c"/>
<circle cx="728" cy="386.4" r="11.2" fill="#4f3f1f"/>
<circle cx="774" cy="386.4" r="19.6" fill="#8c8c8c"/>
<circle cx="774" cy="386.4" r="11.2" fill="#4f3f1f"/>
<circle cx="820.6" cy="386.4" r="19.6" fill="#8c8c8c"/>
<circle cx="820.6" cy="386.4" r="11.2" fill="#4f3f1f"/>
<circle cx="1123.6" cy="371.4" r="19.6" fill="#8c8c8c"/>
<circle cx="1123.6" cy="371.4" r="11.2" fill="#4f3f1f"/>
<circle cx="1169.6" cy="371.4" r="19.6" fill="#8c8c8c"/>
<circle cx="1169.6" cy="371.4" r="11.2" fill="#4f3f1f"/>
<circle cx="1215.5" cy="371.4" r="19.6" fill="#8c8c8c"/>
<circle cx="1215.5" cy="371.4" r="11.2" fill="#4f3f1f"/>
<circle cx="1069" cy="22" r="19.6" fill="#8c8c8c"/>
<circle cx="1069" cy="22" r="11.2" fill="#4f3f1f"/>
<circle cx="1156.8" cy="17.7" r="19.6" fill="#8c8c8c"/>
<circle cx="1156.8" cy="17.7" r="11.2" fill="#4f3f1f"/>
<circle cx="1134.3" cy="297.9" r="19.6" fill="#8c8c8c"/>
<circle cx="1134.3" cy="297.9" r="11.2" fill="#4f3f1f"/>
<circle cx="1180.6" cy="297.9" r="19.6" fill="#8c8c8c"/>
<circle cx="1180.6" cy="297.9" r="11.2" fill="#4f3f1f"/>
<circle cx="1270.5" cy="371" r="7.7" fill="#8c8c8c"/>
<circle cx="1270.5" cy="371" r="5.4" fill="#4f3f1f"/>
<circle cx="519.4" cy="580.2" r="19.6" fill="#8c8c8c"/>
<circle cx="519.4" cy="580.2" r="11.2" fill="#4f3f1f"/>
<circle cx="984.5" cy="579.5" r="19.6" fill="#8c8c8c"/>
<circle cx="984.5" cy="579.5" r="11.2" fill="#4f3f1f"/>
<circle cx="736.1" cy="533.2" r="7.7" fill="#8c8c8c"/>
<circle cx="736.1" cy="533.2" r="5.4" fill="#4f3f1f"/>
<circle cx="712.5" cy="575.1" r="7.7" fill="#8c8c8c"/>
<circle cx="712.5" cy="575.1" r="5.4" fill="#4f3f1f"/>
<circle cx="712.5" cy="623.3" r="7.7" fill="#8c8c8c"/>
<circle cx="712.5" cy="623.3" r="5.4" fill="#4f3f1f"/>
<circle cx="712.5" cy="652.5" r="7.7" fill="#8c8c8c"/>
<circle cx="712.5" cy="652.5" r="5.4" fill="#4f3f1f"/>
<circle cx="882.7" cy="440.7" r="7.7" fill="#8c8c8c"/>
<circle cx="882.7" cy="440.7" r="5.4" fill="#4f3f1f"/>
<circle cx="913.8" cy="611.5" r="7.7" fill="#8c8c8c"/>
<circle cx="913.8" cy="611.5" r="5.4" fill="#4f3f1f"/>
<circle cx="937.2" cy="758.3" r="7.7" fill="#8c8c8c"/>
<circle cx="937.2" cy="758.3" r="5.4" fill="#4f3f1f"/>
<circle cx="799" cy="511.2" r="19.6" fill="#8c8c8c"/>
<circle cx="799" cy="511.2" r="11.2" fill="#4f3f1f"/>
<circle cx="730.8" cy="720.7" r="19.6" fill="#8c8c8c"/>
<circle cx="730.8" cy="720.7" r="11.2" fill="#4f3f1f"/>
<circle cx="797.7" cy="750.3" r="19.6" fill="#8c8c8c"/>
<circle cx="797.7" cy="750.3" r="11.2" fill="#4f3f1f"/>
<circle cx="680" cy="808" r="19.6" fill="#8c8c8c"/>
<circle cx="680" cy="808" r="11.2" fill="#4f3f1f"/>
<circle cx="496" cy="696" r="19.6" fill="#8c8c8c"/>
<circle cx="496" cy="696" r="11.2" fill="#4f3f1f"/>
<circle cx="511.5" cy="874.6" r="7.7" fill="#8c8c8c"/>
<circle cx="511.5" cy="874.6" r="5.4" fill="#4f3f1f"/>
<circle cx="1385.6" cy="433.8" r="19.6" fill="#8c8c8c"/>
<circle cx="1385.6" cy="433.8" r="11.2" fill="#4f3f1f"/>
<circle cx="1431" cy="434" r="19.6" fill="#8c8c8c"/>
<circle cx="1431" cy="434" r="11.2" fill="#4f3f1f"/>
<circle cx="1363.4" cy="472.3" r="19.6" fill="#8c8c8c"/>
<circle cx="1363.4" cy="472.3" r="11.2" fill="#4f3f1f"/>
<circle cx="1409.4" cy="472.3" r="19.6" fill="#8c8c8c"/>
<circle cx="1409.4" cy="472.3" r="11.2" fill="#4f3f1f"/>
<circle cx="1316.4" cy="486.6" r="19.6" fill="#8c8c8c"/>
<circle cx="1316.4" cy="486.6" r="11.2" fill="#4f3f1f"/>
<circle cx="1385.6" cy="532.6" r="19.6" fill="#8c8c8c"/>
<circle cx="1385.6" cy="532.6" r="11.2" fill="#4f3f1f"/>
<circle cx="1347.4" cy="564.2" r="19.6" fill="#8c8c8c"/>
<circle cx="1347.4" cy="564.2" r="11.2" fill="#4f3f1f"/>
<circle cx="1363.4" cy="603.4" r="19.6" fill="#8c8c8c"/>
<circle cx="1363.4" cy="603.4" r="11.2" fill="#4f3f1f"/>
<circle cx="1409.4" cy="603.4" r="19.6" fill="#8c8c8c"/>
<circle cx="1409.4" cy="603.4" r="11.2" fill="#4f3f1f"/>
<circle cx="1316.4" cy="650" r="19.6" fill="#8c8c8c"/>
<circle cx="1316.4" cy="650" r="11.2" fill="#4f3f1f"/>
<circle cx="1363.4" cy="650" r="19.6" fill="#8c8c8c"/>
<circle cx="1363.4" cy="650" r="11.2" fill="#4f3f1f"/>
<circle cx="1409.4" cy="650" r="19.6" fill="#8c8c8c"/>
<circle cx="1409.4" cy="650" r="11.2" fill="#4f3f1f"/>
<circle cx="1320.2" cy="529.8" r="19.8" fill="#8c8c8c"/>
<circle cx="1320.2" cy="529.8" r="12.3" fill="#3b6363"/>
<circle cx="1216" cy="658" r="19.6" fill="#8c8c8c"/>
<circle cx="1216" cy="658" r="11.2" fill="#4f3f1f"/>
<circle cx="1216" cy="704.4" r="19.6" fill="#8c8c8c"/>
<circle cx="1216" cy="704.4" r="11.2" fill="#4f3f1f"/>
<circle cx="1216" cy="750.7" r="19.6" fill="#8c8c8c"/>
<circle cx="1216" cy="750.7" r="11.2" fill="#4f3f1f"/>
<circle cx="1262.5" cy="658" r="19.6" fill="#8c8c8c"/>
<circle cx="1262.5" cy="658" r="11.2" fill="#4f3f1f"/>
<circle cx="1262.5" cy="704.4" r="19.6" fill="#8c8c8c"/>
<circle cx="1262.5" cy="704.4" r="11.2" fill="#4f3f1f"/>
<circle cx="1262.5" cy="750.7" r="19.6" fill="#8c8c8c"/>
<circle cx="1262.5" cy="750.7" r="11.2" fill="#4f3f1f"/>
<circle cx="190" cy="715.4" r="19.8" fill="#8c8c8c"/>
<circle cx="190" cy="715.4" r="12.3" fill="#3b6363"/>
<rect x="170.2" y="850.8" width="39.8" height="39.8" fill="#8c8c8c"/>
<circle cx="190" cy="870.7" r="12.3" fill="#3b6363"/>
<circle cx="426.3" cy="758.4" r="19.6" fill="#8c8c8c"/>
<circle cx="426.3" cy="758.4" r="11.2" fill="#4f3f1f"/>
<circle cx="426.3" cy="805.2" r="19.6" fill="#8c8c8c"/>
<circle cx="426.3" cy="805.2" r="11.2" fill="#4f3f1f"/>
<circle cx="426.3" cy="851.9" r="19.6" fill="#8c8c8c"/>
<circle cx="426.3" cy="851.9" r="11.2" fill="#4f3f1f"/>
<circle cx="472.6" cy="758.4" r="19.6" fill="#8c8c8c"/>
<circle cx="472.6" cy="758.4" r="11.2" fill="#4f3f1f"/>
<circle cx="472.6" cy="805.2" r="19.6" fill="#8c8c8c"/>
<circle cx="472.6" cy="805.2" r="11.2" fill="#4f3f1f"/>
<circle cx="472.6" cy="851.9" r="19.6" fill="#8c8c8c"/>
<circle cx="472.6" cy="851.9" r="11.2" fill="#4f3f1f"/>
<circle cx="69.8" cy="1153.4" r="7.7" fill="#8c8c8c"/>
<circle cx="69.8" cy="1153.4" r="5.4" fill="#4f3f1f"/>
<circle cx="62.3" cy="1191.9" r="7.7" fill="#8c8c8c"/>
<circle cx="62.3" cy="1191.9" r="5.4" fill="#4f3f1f"/>
<circle cx="395.1" cy="1055.6" r="7.7" fill="#8c8c8c"/>
<circle cx="395.1" cy="1055.6" r="5.4" fill="#4f3f1f"/>
<circle cx="40.4" cy="1236" r="19.6" fill="#8c8c8c"/>
<circle cx="40.4" cy="1236" r="11.2" fill="#4f3f1f"/>
<circle cx="86.2" cy="1236" r="19.6" fill="#8c8c8c"/>
<circle cx="86.2" cy="1236" r="11.2" fill="#4f3f1f"/>
<circle cx="720.1" cy="921.1" r="7.7" fill="#8c8c8c"/>
<circle cx="720.1" cy="921.1" r="5.4" fill="#4f3f1f"/>
<circle cx="805.7" cy="944.4" r="19.6" fill="#8c8c8c"/>
<circle cx="805.7" cy="944.4" r="11.2" fill="#4f3f1f"/>
<circle cx="805.7" cy="990.9" r="19.6" fill="#8c8c8c"/>
<circle cx="805.7" cy="990.9" r="11.2" fill="#4f3f1f"/>
<circle cx="805.7" cy="1037.4" r="19.6" fill="#8c8c8c"/>
<circle cx="805.7" cy="1037.4" r="11.2" fill="#4f3f1f"/>
<circle cx="868" cy="878.4" r="7.7" fill="#8c8c8c"/>
<circle cx="868" cy="878.4" r="5.4" fill="#4f3f1f"/>
<circle cx="790" cy="1145.9" r="19.6" fill="#8c8c8c"/>
<circle cx="790" cy="1145.9" r="11.2" fill="#4f3f1f"/>
<circle cx="1347.4" cy="944" r="19.6" fill="#8c8c8c"/>
<circle cx="1347.4" cy="944" r="11.2" fill="#4f3f1f"/></g>
<g><polyline points="275.7,434 275.7,573" fill="none" stroke="#5a5826" stroke-width="5.5" stroke-linecap="round" stroke-linejoin="round"/>
<polyline points="437.4,434 437.4,573" fill="none" stroke="#5a5826" stroke-width="5.5" stroke-linecap="round" stroke-linejoin="round"/>
<polyline points="729.4,-5 729.4,107" fill="none" stroke="#5a5826" stroke-width="5.5" stroke-linecap="round" stroke-linejoin="round"/>
<polyline points="911.9,-5 911.9,107" fill="none" stroke="#5a5826" stroke-width="5.5" stroke-linecap="round" stroke-linejoin="round"/>
<polyline points="474.2,328.9 549.2,328.9" fill="none" stroke="#5a5826" stroke-width="6" stroke-linecap="round" stroke-linejoin="round"/>
<polyline points="474.2,383 549.2,383" fill="none" stroke="#5a5826" stroke-width="6" stroke-linecap="round" stroke-linejoin="round"/>
<polyline points="474.2,389.9 549.2,389.9" fill="none" stroke="#5a5826" stroke-width="6" stroke-linecap="round" stroke-linejoin="round"/>
<polyline points="474.2,445 549.2,445" fill="none" stroke="#5a5826" stroke-width="6" stroke-linecap="round" stroke-linejoin="round"/>
<polyline points="574,398.3 650,398.3" fill="none" stroke="#5a5826" stroke-width="5.5" stroke-linecap="round" stroke-linejoin="round"/>
<polyline points="574,452.5 650,452.5" fill="none" stroke="#5a5826" stroke-width="5.5" stroke-linecap="round" stroke-linejoin="round"/>
<circle cx="578.5" cy="756.5" r="2.6" fill="#5a5826"/>
<polyline points="839,467.9 885,467.9" fill="none" stroke="#5a5826" stroke-width="6" stroke-linecap="round" stroke-linejoin="round"/>
<polyline points="810,810.2 888,810.2" fill="none" stroke="#5a5826" stroke-width="6.3" stroke-linecap="round" stroke-linejoin="round"/>
<polyline points="907.5,809 998.5,809" fill="none" stroke="#5a5826" stroke-width="6.3" stroke-linecap="round" stroke-linejoin="round"/>
<polyline points="810,865.2 888,865.2" fill="none" stroke="#5a5826" stroke-width="6.3" stroke-linecap="round" stroke-linejoin="round"/>
<polyline points="907.5,878.8 998.5,878.8" fill="none" stroke="#5a5826" stroke-width="6.3" stroke-linecap="round" stroke-linejoin="round"/>
<polyline points="1300.4,689.5 1300.4,719.5" fill="none" stroke="#5a5826" stroke-width="5.5" stroke-linecap="round" stroke-linejoin="round"/>
<polyline points="1300.4,828 1300.4,858" fill="none" stroke="#5a5826" stroke-width="5.5" stroke-linecap="round" stroke-linejoin="round"/>
<polyline points="1347.4,689.5 1347.4,719.5" fill="none" stroke="#5a5826" stroke-width="5.5" stroke-linecap="round" stroke-linejoin="round"/>
<polyline points="1347.4,828 1347.4,858" fill="none" stroke="#5a5826" stroke-width="5.5" stroke-linecap="round" stroke-linejoin="round"/>
<polyline points="1389.6,755 1389.6,943.4 1425,943.4" fill="none" stroke="#5a5826" stroke-width="2.6" stroke-linecap="butt" stroke-linejoin="miter"/>
<polyline points="-5,864 67,864" fill="none" stroke="#5a5826" stroke-width="5.5" stroke-linecap="round" stroke-linejoin="round"/>
<polyline points="-5,916.1 67,916.1" fill="none" stroke="#5a5826" stroke-width="5.5" stroke-linecap="round" stroke-linejoin="round"/>
<polyline points="52.5,954.6 108.5,954.6" fill="none" stroke="#5a5826" stroke-width="5.5" stroke-linecap="round" stroke-linejoin="round"/>
<polyline points="52.5,1041.4 108.5,1041.4" fill="none" stroke="#5a5826" stroke-width="5.5" stroke-linecap="round" stroke-linejoin="round"/>
<polyline points="414,954.6 469.5,954.6" fill="none" stroke="#5a5826" stroke-width="5.5" stroke-linecap="round" stroke-linejoin="round"/>
<polyline points="414,1041.4 469.5,1041.4" fill="none" stroke="#5a5826" stroke-width="5.5" stroke-linecap="round" stroke-linejoin="round"/>
<polyline points="414,1149.3 469.5,1149.3" fill="none" stroke="#5a5826" stroke-width="5.5" stroke-linecap="round" stroke-linejoin="round"/>
<polyline points="414,1232.7 469.5,1232.7" fill="none" stroke="#5a5826" stroke-width="5.5" stroke-linecap="round" stroke-linejoin="round"/>
<circle cx="965.1" cy="1151" r="6" fill="#5a5826"/>
<polyline points="1176.9,849.7 1176.9,1168" fill="none" stroke="#5a5826" stroke-width="1.7" stroke-linecap="round" stroke-linejoin="round"/>
<polyline points="1274.9,979.1 1085.3,979.1 1085.3,1186.8 1274.9,1186.8" fill="none" stroke="#5a5826" stroke-width="2.7" stroke-linecap="butt" stroke-linejoin="miter"/></g>
<g><circle cx="147" cy="-139" r="201" fill="none" stroke="#b0ad52" stroke-width="3.9"/>
<circle cx="262" cy="88.5" r="3.2" fill="#b0ad52"/>
<circle cx="386.4" cy="20.4" r="3" fill="#b0ad52"/>
<circle cx="699.8" cy="137.9" r="7.5" fill="#b0ad52"/>
<circle cx="1128.5" cy="186.6" r="7.5" fill="#b0ad52"/>
<circle cx="1398.5" cy="530" r="202" fill="none" stroke="#b0ad52" stroke-width="3.9"/>
<circle cx="190.6" cy="793.2" r="202" fill="none" stroke="#b0ad52" stroke-width="3.9"/>
<circle cx="360.9" cy="1150.3" r="3" fill="#b0ad52"/>
<circle cx="796" cy="1018.1" r="2.8" fill="#b0ad52"/>
<rect x="944.3" y="915.7" width="184.6" height="184.6" rx="15" fill="none" stroke="#b0ad52" stroke-width="11.8" transform="rotate(45 1036.6 1008)"/>
<text x="1037.5" y="946.9" font-size="19.8" font-weight="bold" fill="#b0ad52" text-anchor="middle">DANGER</text>
<text x="1036.5" y="1064.2" font-size="20.4" font-weight="bold" fill="#b0ad52" text-anchor="middle">HIGH</text>
<text x="1036" y="1085.3" font-size="19.8" font-weight="bold" fill="#b0ad52" text-anchor="middle">VOLTAGE</text>
<polygon points="1008.3,955.2 1011.2,956.9 1016.2,962.5 1023,973.7 1032,972 1045.5,973.2 1049.9,970.9 1061.2,967.5 1076.9,965.6 1074.1,970.4 1061.2,977.1 1052.2,980.3 1053.5,985 1055.6,992.8 1061.2,1003 1067.9,1012 1072.4,1018.7 1075.8,1022.6 1072.4,1029.9 1071.3,1037.8 1072.8,1041.8 1070.7,1045.5 1067.4,1041.8 1064.6,1036.7 1057.8,1034.4 1049.9,1035.6 1044.3,1038.9 1042.1,1042.9 1038.7,1043.2 1036.5,1038.9 1032,1034.4 1029.7,1027.7 1029.1,1018.7 1027.5,1017.6 1020.7,1017.6 1012.8,1015.3 1007.2,1011.1 1005.5,1008 1008.3,1005.4 1016.2,1002.1 1018.5,999.6 1015.1,996.2 1014,990.6 1016.2,983.8 1018.5,979.4 1016.2,974.9 1011.7,965.9 1008.6,958.6" fill="#b0ad52"/>
<polygon points="1069.6,987.8 1093.2,962.3 1097.7,978.2 1096.6,981.8 1082,992.8 1082,1000.7 1077.5,1007.5 1081.4,1016.5 1077.5,1018.9 1066.8,1007.5 1074.7,1001.3" fill="#b0ad52"/>
<circle cx="1035.1" cy="980.5" r="2.6" fill="#000"/>
<circle cx="1040.4" cy="988.3" r="3.4" fill="#000"/>
<circle cx="1019" cy="984.1" r="1.6" fill="#000"/>
<circle cx="1025.2" cy="989.2" r="2" fill="#000"/>
<polygon points="981.9,963.6 989.8,968.1 992.6,963.8 999.6,973.4 993.7,970.1 991.7,973.7" fill="#b0ad52"/>
<polygon points="967.9,992.6 976.9,991.5 975.7,988.1 987.2,991.7 980.5,992.4 980.9,995.3" fill="#b0ad52"/>
<polygon points="978,1024.6 985.9,1020.1 982.5,1018.9 993.7,1015.1 988.7,1020.5 989.9,1021.6" fill="#b0ad52"/></g>
<g></g>
</svg>
</body></html>
